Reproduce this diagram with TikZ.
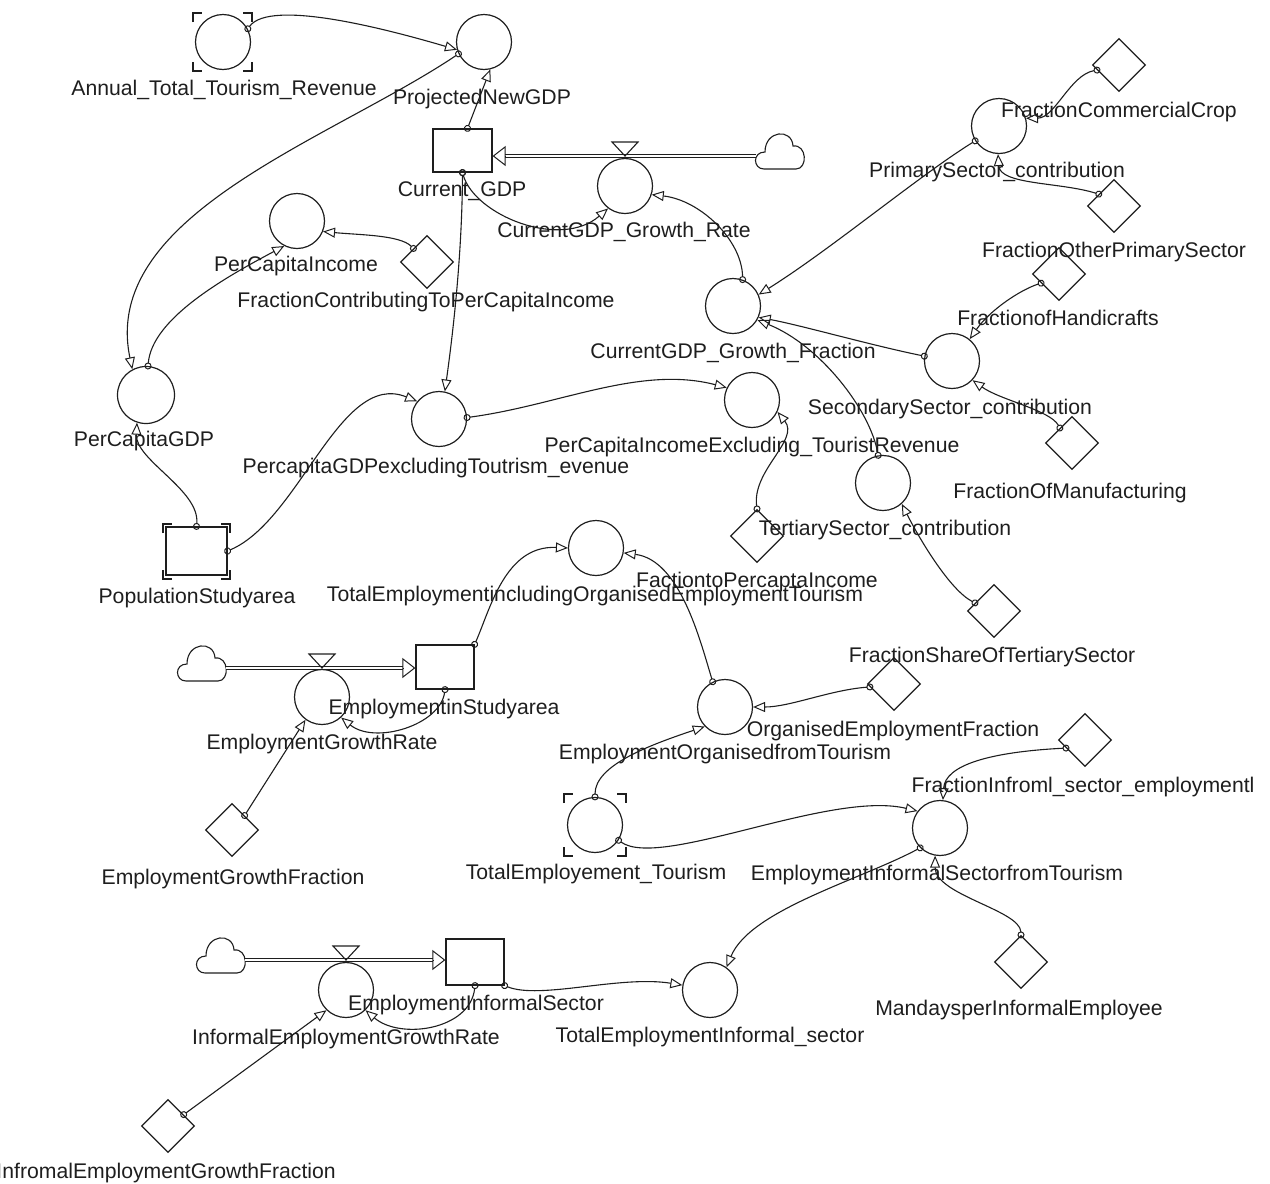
\documentclass[tikz,border=0pt]{standalone}
\usepackage{fontspec}
\setmainfont{Liberation Sans}
\usetikzlibrary{arrows.meta,shapes.geometric}

\definecolor{ink}{HTML}{1E1E1E}

\tikzset{
  aux/.style={circle, draw=ink, line width=1.2pt, minimum size=55pt, inner sep=0pt},
  const/.style={diamond, draw=ink, line width=1.2pt, minimum width=53pt, minimum height=53pt, inner sep=0pt},
  stock/.style={rectangle, draw=ink, line width=1.2pt, minimum width=58pt, minimum height=44pt, inner sep=0pt},
  lbl/.style={anchor=base, inner sep=0pt, text=ink, font=\fontsize{21.2}{25}\selectfont},
  link/.style={draw=ink, line width=1.1pt, shorten <=-3.5pt,
    {Circle[open,length=7pt,width=7pt,line width=1pt]}-{Triangle[open,length=12pt,width=10pt,line width=1pt]}},
  pipe/.style={draw=ink, line width=0.9pt, double=white, double distance=2.6pt},
  pipehead/.style={draw=ink, line width=1pt, -{Triangle[open,length=13pt,width=20pt,line width=1pt]}},
  ghost/.style={draw=ink, line width=1.1pt},
  cloudbox/.style={rectangle, minimum width=48pt, minimum height=4pt, inner sep=0pt},
  cloudpic/.pic={\draw[ink, line width=1.1pt] (-16,13) .. controls (-27,13) and (-28,-4) .. (-15,-4)
      .. controls (-15,-26) and (12,-28) .. (13,-10) .. controls (27,-12) and (28,13) .. (16,13) -- cycle;},
  valvepic/.pic={\draw[ink, line width=1.1pt] (-13,-14) -- (13,-14) -- (0,0) -- cycle;}
}

% corner brackets of a ghost (alias) element: left, top, right, bottom
\newcommand{\ghostmarks}[4]{%
  \draw[ghost] (#1,#2+9) -- (#1,#2) -- (#1+9,#2);
  \draw[ghost] (#3-9,#2) -- (#3,#2) -- (#3,#2+9);
  \draw[ghost] (#1,#4-9) -- (#1,#4) -- (#1+9,#4);
  \draw[ghost] (#3-9,#4) -- (#3,#4) -- (#3,#4-9);
}
% source/sink cloud with a named anchor node
\newcommand{\cloudnode}[2]{\node[cloudbox] (#1) at (#2) {}; \pic at (#2) {cloudpic};}

\begin{document}
\begin{tikzpicture}[x=1pt, y=-1pt]
\useasboundingbox (0,0) rectangle (1270,1184);

% ---------- auxiliaries ----------
\node[aux] (att)  at (223,42)  {};
\node[aux] (png)  at (484,42)  {};
\node[aux] (cgr)  at (625,186) {};
\node[aux] (pci)  at (297,221) {};
\node[aux] (cgf)  at (733,306) {};
\node[aux] (psc)  at (999,126) {};
\node[aux] (ssc)  at (952,361) {};
\node[aux] (tsc)  at (883,483) {};
\node[aux] (pcie) at (752,400) {};
\node[aux] (pgx)  at (439,419) {};
\node[aux, minimum height=57pt] (pcg)  at (146,395) {};
\node[aux] (tei)  at (596,548) {};
\node[aux] (egr)  at (322,697) {};
\node[aux] (eot)  at (725,707) {};
\node[aux] (tet)  at (595,825) {};
\node[aux] (eis)  at (940,828) {};
\node[aux] (tei2) at (710,990) {};
\node[aux] (iegr) at (346,990) {};

% ---------- constants ----------
\node[const] (fccp) at (427,262)  {};
\node[const] (fcc)  at (1119,65)  {};
\node[const] (fop)  at (1114,206) {};
\node[const] (fhc)  at (1059,274) {};
\node[const] (fom)  at (1072,443) {};
\node[const] (ftp)  at (757,536)  {};
\node[const] (fst)  at (994,611)  {};
\node[const] (oef)  at (894,684)  {};
\node[const] (egf)  at (232,830)  {};
\node[const] (fis)  at (1085,740) {};
\node[const] (mie)  at (1021,962) {};
\node[const] (iegf) at (168,1126) {};

% ---------- stocks ----------
\node[stock, minimum width=59pt, minimum height=43pt] (cgdp) at (462.5,150.5) {};
\node[stock, minimum width=61pt, minimum height=48pt] (psa) at (196.5,551) {};
\node[stock] (esa) at (445,667) {};
\node[stock, minimum height=46pt] (eisec) at (475,962) {};

% ghost brackets
\ghostmarks{193}{13}{252}{71}
\ghostmarks{564}{794}{626}{856}
\ghostmarks{163}{524}{230}{579}

% ---------- flows ----------
\coordinate (v1) at (625,156);
\coordinate (h1) at (505,156);
\cloudnode{cloud1}{780,156}
\draw[pipe] (cloud1.west) -- (h1);
\draw[pipehead] (h1) -- (cgdp.east |- v1);
\pic at (v1) {valvepic};

\coordinate (v2) at (322,668);
\coordinate (h2) at (403,668);
\cloudnode{cloud2}{202,668}
\draw[pipe] (cloud2.east) -- (h2);
\draw[pipehead] (h2) -- (esa.west |- v2);
\pic at (v2) {valvepic};

\coordinate (v3) at (346,960);
\coordinate (h3) at (433,960);
\cloudnode{cloud3}{221,960}
\draw[pipe] (cloud3.east) -- (h3);
\draw[pipehead] (h3) -- (eisec.west |- v3);
\pic at (v3) {valvepic};

% ---------- information links ----------
\draw[link] (att.28) .. controls (270,-2) and (390,30) .. (png.196);
\draw[link] (png.205) .. controls (330,140) and (100,215) .. (pcg.118);
\draw[link] ([xshift=5pt]cgdp.north) -- (png.283);
\draw[link] (cgdp.south) .. controls (475,215) and (560,250) .. (cgr.233);
\draw[link] (cgdp.south) .. controls (462,260) and (452,340) .. (pgx.78);
\draw[link] (cgf.70) .. controls (742,240) and (700,200) .. (cgr.342);
\draw[link] (psc.212) .. controls (920,175) and (830,250) .. (cgf.24);
\draw[link] (fcc.193) .. controls (1070,75) and (1055,118) .. (psc.16);
\draw[link] (fop.142) .. controls (1060,182) and (1000,185) .. (psc.268);
\draw[link] (fhc.207) .. controls (1020,290) and (990,310) .. (ssc.51);
\draw[link] (ssc.170) .. controls (870,345) and (800,325) .. (cgf.336);
\draw[link] (fom.129) .. controls (1050,410) and (1000,400) .. (ssc.317);
\draw[link] (tsc.100) .. controls (870,410) and (820,345) .. (cgf.330);
\draw[link] (fst.157) .. controls (950,590) and (920,540) .. (tsc.312);
\draw[link] (ftp.north) .. controls (752,470) and (800,440) .. (pcie.335);
\draw[link] (pgx.3) .. controls (560,405) and (640,365) .. (pcie.154);
\draw[link] (psa.north) .. controls (200,490) and (135,460) .. (pcg.252);
\draw[link] (psa.east) .. controls (300,520) and (340,370) .. (pgx.141);
\draw[link] (pcg.86) .. controls (152,320) and (220,280) .. (pci.243);
\draw[link] (fccp.135) .. controls (400,235) and (360,235) .. (pci.338);
\draw[link] (esa.north east) .. controls (490,610) and (505,545) .. (tei.180);
\draw[link] (eot.116) .. controls (700,640) and (680,560) .. (tei.350);
\draw[link] (oef.187) .. controls (830,690) and (790,707) .. (eot.0);
\draw[link] (tet.north) .. controls (595,765) and (650,745) .. (eot.224);
\draw[link] (tet.327) .. controls (660,870) and (830,790) .. (eis.143);
\draw[link] (fis.203) .. controls (990,752) and (945,765) .. (eis.84);
\draw[link] (mie.north) .. controls (1020,910) and (935,895) .. (eis.260);
\draw[link] (eis.225) .. controls (860,880) and (750,910) .. (tei2.54);
\draw[link] (eisec.south east) .. controls (540,1000) and (620,975) .. (tei2.170);
\draw[link] (eisec.south) .. controls (470,1030) and (400,1040) .. (iegr.314);
\draw[link] (iegf.36) -- (iegr.226);
\draw[link] (esa.south) .. controls (440,725) and (375,745) .. (egr.313);
\draw[link] (egf.49) -- (egr.234);

% ---------- labels ----------
\node[lbl] (l-att)  at (224,95)   {Annual\_Total\_Tourism\_Revenue};
\node[lbl] (l-png)  at (482,104)  {ProjectedNewGDP};
\node[lbl] (l-cgdp) at (462,196)  {Current\_GDP};
\node[lbl] (l-cgr)  at (624,237)  {CurrentGDP\_Growth\_Rate};
\node[lbl] (l-pci)  at (296,271)  {PerCapitaIncome};
\node[lbl] (l-fccp) at (426,307)  {FractionContributingToPerCapitaIncome};
\node[lbl] (l-cgf)  at (733,358)  {CurrentGDP\_Growth\_Fraction};
\node[lbl] (l-psc)  at (997,177)  {PrimarySector\_contribution};
\node[lbl] (l-fcc)  at (1119,117) {FractionCommercialCrop};
\node[lbl] (l-fop)  at (1114,257) {FractionOtherPrimarySector};
\node[lbl] (l-fhc)  at (1058,325) {FractionofHandicrafts};
\node[lbl] (l-ssc)  at (950,414)  {SecondarySector\_contribution};
\node[lbl] (l-fom)  at (1070,498) {FractionOfManufacturing};
\node[lbl] (l-tsc)  at (885,535)  {TertiarySector\_contribution};
\node[lbl] (l-fst)  at (992,662)  {FractionShareOfTertiarySector};
\node[lbl] (l-pcie) at (752,452)  {PerCapitaIncomeExcluding\_TouristRevenue};
\node[lbl] (l-ftp)  at (757,587)  {FactiontoPercaptaIncome};
\node[lbl] (l-pgx)  at (436,473)  {PercapitaGDPexcludingToutrism\_evenue};
\node[lbl] (l-pcg)  at (144,446)  {PerCapitaGDP};
\node[lbl] (l-psa)  at (197,603)  {PopulationStudyarea};
\node[lbl] (l-tei)  at (595,601)  {TotalEmploymentincludingOrganisedEmploymentTourism};
\node[lbl] (l-esa)  at (444,714)  {EmploymentinStudyarea};
\node[lbl] (l-egr)  at (322,749)  {EmploymentGrowthRate};
\node[lbl] (l-egf)  at (233,884)  {EmploymentGrowthFraction};
\node[lbl] (l-eot)  at (725,759)  {EmploymentOrganisedfromTourism};
\node[lbl] (l-oef)  at (893,736)  {OrganisedEmploymentFraction};
\node[lbl] (l-tet)  at (596,879)  {TotalEmployement\_Tourism};
\node[lbl] (l-eis)  at (937,880)  {EmploymentInformalSectorfromTourism};
\node[lbl] (l-fis)  at (1083,792) {FractionInfroml\_sector\_employmentl};
\node[lbl] (l-mie)  at (1019,1015) {MandaysperInformalEmployee};
\node[lbl] (l-tei2) at (710,1042) {TotalEmploymentInformal\_sector};
\node[lbl] (l-eisec) at (476,1010) {EmploymentInformalSector};
\node[lbl] (l-iegr) at (346,1044) {InformalEmploymentGrowthRate};
\node[lbl, anchor=base east] (l-iegf) at (336,1178) {InfromalEmploymentGrowthFraction};

\end{tikzpicture}
\end{document}
